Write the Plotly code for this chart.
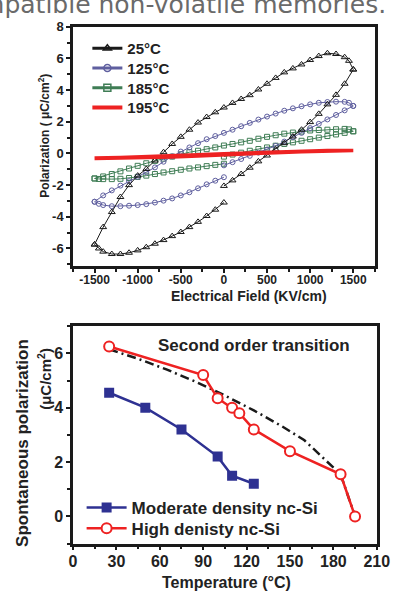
import plotly.graph_objects as go

W, H = 407, 592
FONT = "Liberation Sans, Arial, sans-serif"
TXT = "#222222"

# ---------------- top panel: P-E hysteresis loops ----------------
E_RISE = [0, 100, 200, 300, 400, 500, 600, 700, 800, 900, 1000, 1100, 1200, 1300, 1400, 1500]
E_FALL = [1500, 1450, 1400, 1300, 1200, 1100, 1000, 900, 800, 700, 600, 500, 400, 300, 200, 100, 0,
          -100, -200, -300, -400, -500, -600, -700, -800, -900, -1000, -1100, -1200, -1300, -1400, -1500]
E_RET = [-1500, -1450, -1400, -1300, -1200, -1100, -1000, -900, -800, -700, -600, -500, -400, -300, -200, -100, 0]

P25_RISE = [-2.05, -1.7, -1.3, -0.9, -0.5, -0.13, 0.25, 0.65, 1.07, 1.5, 1.98, 2.5, 3.1, 3.7, 4.4, 5.3]
P25_FALL = [5.3, 5.85, 6.08, 6.28, 6.33, 6.15, 5.9, 5.62, 5.37, 5.12, 4.77, 4.4, 4.04, 3.68, 3.44, 3.19, 2.9,
            2.6, 2.3, 1.95, 1.5, 1.05, 0.6, 0.08, -0.45, -0.98, -1.4, -2.0, -2.75, -3.7, -4.65, -5.75]
P25_RET = [-5.75, -6.0, -6.2, -6.35, -6.35, -6.27, -6.12, -5.92, -5.7, -5.47, -5.22, -4.96, -4.65, -4.32,
           -3.95, -3.55, -3.1]

P125_RISE = [-0.75, -0.55, -0.35, -0.15, 0.05, 0.25, 0.48, 0.75, 1.03, 1.3, 1.6, 1.87, 2.15, 2.43, 2.72, 3.0]
P125_FALL = [3.0, 3.2, 3.26, 3.27, 3.25, 3.2, 3.1, 2.98, 2.85, 2.7, 2.52, 2.33, 2.14, 1.93, 1.72, 1.5, 1.3,
             1.1, 0.9, 0.65, 0.38, 0.12, -0.18, -0.52, -0.88, -1.18, -1.47, -1.75, -2.03, -2.33, -2.65, -3.05]
P125_RET = [-3.05, -3.18, -3.26, -3.33, -3.33, -3.3, -3.26, -3.2, -3.1, -2.98, -2.84, -2.65, -2.45, -2.2,
            -1.95, -1.72, -1.5]

P185_RISE = [-0.2, -0.07, 0.05, 0.17, 0.28, 0.38, 0.49, 0.6, 0.7, 0.8, 0.9, 1.0, 1.1, 1.2, 1.3, 1.4]
P185_FALL = [1.4, 1.52, 1.55, 1.53, 1.5, 1.48, 1.45, 1.38, 1.32, 1.25, 1.15, 1.05, 0.93, 0.8, 0.7, 0.6, 0.5,
             0.38, 0.27, 0.17, 0.08, -0.05, -0.2, -0.33, -0.47, -0.62, -0.78, -0.95, -1.13, -1.3, -1.45, -1.58]
P185_RET = [-1.58, -1.61, -1.62, -1.62, -1.6, -1.55, -1.48, -1.4, -1.3, -1.2, -1.12, -1.03, -0.95, -0.88,
            -0.8, -0.72, -0.65]

E195 = [-1500, -1200, -900, -600, -300, 0, 300, 600, 900, 1200, 1500,
        1200, 900, 600, 300, 0, -300, -600, -900, -1200, -1500]
P195 = [-0.32, -0.3, -0.27, -0.22, -0.16, -0.08, -0.02, 0.05, 0.1, 0.15, 0.18,
        0.19, 0.15, 0.1, 0.05, -0.02, -0.08, -0.15, -0.2, -0.25, -0.28]

LOOP_NAMES = ["25°C", "125°C", "185°C", "195°C"]
E_TICKS = [-1500, -1000, -500, 0, 500, 1000, 1500]
E_TICKTEXT = ["-1500", "-1000", "-500", "0", "500", "1000", "1500"]
P_TICKS = [-6, -4, -2, 0, 2, 4, 6, 8]
P_TICKTEXT = ["-6", "-4", "-2", "0", "2", "4", "6", "8"]

# ---------------- bottom panel: spontaneous polarization vs T ----------------
T_MOD = [25, 50, 75, 100, 110, 125]
P_MOD = [4.55, 4.0, 3.2, 2.2, 1.5, 1.2]
T_HIGH = [25, 90, 100, 110, 115, 125, 150, 185, 195]
P_HIGH = [6.25, 5.2, 4.35, 4.0, 3.8, 3.2, 2.4, 1.55, 0.0]
T_FIT = [25, 45, 65, 85, 105, 125, 145, 160, 175, 185, 195]
P_FIT = [6.15, 5.8, 5.4, 4.95, 4.45, 3.9, 3.3, 2.8, 2.05, 1.55, 0.0]
T_TICKS = [0, 30, 60, 90, 120, 150, 180, 210]
PS_TICKS = [0, 2, 4, 6]

BLACK = "#1a1a1a"
PURPLE = "#5f5f9f"
GREEN = "#3f7d55"
RED = "#ee2222"
BLUE = "#2e3192"


def fx(px):
    return px / W


def fy(py):
    return 1 - py / H


fig = go.Figure()

loop_styles = [
    (P25_RISE + P25_FALL + P25_RET, BLACK, "triangle-up-open", 6),
    (P125_RISE + P125_FALL + P125_RET, PURPLE, "circle-open", 5),
    (P185_RISE + P185_FALL + P185_RET, GREEN, "square-open", 5),
]
E_LOOP = E_RISE + E_FALL + E_RET
for P, col, sym, sz in reversed(loop_styles):
    fig.add_trace(go.Scatter(
        x=E_LOOP, y=P, mode="lines+markers", xaxis="x", yaxis="y",
        line=dict(color=col, width=1),
        marker=dict(symbol=sym, size=sz, color=col, line=dict(color=col, width=1)),
        showlegend=False, hoverinfo="skip"))

fig.add_trace(go.Scatter(
    x=E195, y=P195, mode="lines", xaxis="x", yaxis="y",
    line=dict(color=RED, width=3.5), showlegend=False, hoverinfo="skip"))

# legend entries for the loops (one legend box per row)
leg_syms = [("triangle-up-open", BLACK, "lines+markers"), ("circle-open", PURPLE, "lines+markers"),
            ("square-open", GREEN, "lines+markers"), ("circle", RED, "lines")]
for i, (name, (sym, col, mode)) in enumerate(zip(LOOP_NAMES, leg_syms)):
    fig.add_trace(go.Scatter(
        x=[None], y=[None], mode=mode, name=name, xaxis="x", yaxis="y",
        line=dict(color=col, width=3 if mode == "lines+markers" else 4),
        marker=dict(symbol=sym, size=7, color=col, line=dict(color=col, width=1.5)),
        legend="legend" if i == 0 else f"legend{i + 1}"))

# bottom panel
fig.add_trace(go.Scatter(
    x=T_FIT, y=P_FIT, mode="lines", xaxis="x2", yaxis="y2",
    line=dict(color=BLACK, width=2.5, dash="9px,4px,2px,4px"),
    showlegend=False, hoverinfo="skip"))
fig.add_trace(go.Scatter(
    x=T_MOD, y=P_MOD, mode="lines+markers", xaxis="x2", yaxis="y2",
    name="Moderate density nc-Si",
    line=dict(color=BLUE, width=2.5),
    marker=dict(symbol="square", size=10, color=BLUE, line=dict(width=0)),
    legend="legend5"))
fig.add_trace(go.Scatter(
    x=T_HIGH, y=P_HIGH, mode="lines+markers", xaxis="x2", yaxis="y2",
    name="High denisty nc-Si",
    line=dict(color=RED, width=2.5),
    marker=dict(symbol="circle", size=10, color="white", line=dict(color=RED, width=2)),
    legend="legend6"))


def leg(xp, yp, size, iw):
    return dict(x=fx(xp), y=fy(yp), xanchor="left", yanchor="middle",
                bgcolor="rgba(0,0,0,0)", borderwidth=0, itemwidth=iw,
                font=dict(family=FONT, size=size, color=TXT, weight="bold"),
                tracegroupgap=0)


ax_common = dict(showline=True, linewidth=2.5, linecolor=BLACK, mirror=True,
                 ticks="outside", tickwidth=2, tickcolor=BLACK,
                 showgrid=False, zeroline=False)

fig.update_layout(
    width=W, height=H, margin=dict(l=0, r=0, t=0, b=0),
    paper_bgcolor="white", plot_bgcolor="white",
    xaxis=dict(domain=[fx(72), fx(387)], range=[-1750, 1750], anchor="y",
               tickmode="array", tickvals=E_TICKS, ticktext=E_TICKTEXT, ticklen=4,
               ticklabelstandoff=-3,
               minor=dict(tickmode="linear", tick0=0, dtick=250, ticks="outside", ticklen=3,
                          tickwidth=1.5, tickcolor=BLACK),
               tickfont=dict(family=FONT, size=12, color=TXT, weight="bold"), **ax_common),
    yaxis=dict(domain=[fy(262), fy(20)], range=[-7.1, 8], anchor="x",
               tickmode="array", tickvals=P_TICKS, ticktext=P_TICKTEXT, ticklen=4,
               minor=dict(tickmode="linear", tick0=0, dtick=1, ticks="outside", ticklen=3,
                          tickwidth=1.5, tickcolor=BLACK),
               tickfont=dict(family=FONT, size=13, color=TXT, weight="bold"), **ax_common),
    xaxis2=dict(domain=[fx(72), fx(389)], range=[0, 210], anchor="y2",
                tickmode="array", tickvals=T_TICKS, ticklen=4,
                ticklabelstandoff=-3,
                minor=dict(tickmode="linear", tick0=0, dtick=15, ticks="outside", ticklen=3,
                           tickwidth=1.5, tickcolor=BLACK),
                tickfont=dict(family=FONT, size=16, color=TXT, weight="bold"), **ax_common),
    yaxis2=dict(domain=[fy(543), fy(323)], range=[-1, 7], anchor="x2",
                tickmode="array", tickvals=PS_TICKS, ticklen=4,
                minor=dict(tickmode="linear", tick0=0, dtick=1, ticks="outside", ticklen=3,
                           tickwidth=1.5, tickcolor=BLACK),
                tickfont=dict(family=FONT, size=16, color=TXT, weight="bold"), **ax_common),
    legend=leg(87, 42, 15, 30),
    legend2=leg(87, 62, 15, 30),
    legend3=leg(87, 82, 15, 30),
    legend4=leg(87, 102, 15, 30),
    legend5=leg(81, 507, 17, 40),
    legend6=leg(81, 528, 17, 40),
    annotations=[
        dict(text="compatible non-volatile memories.", xref="paper", yref="paper",
             x=fx(401), y=fy(14), xanchor="right", yanchor="bottom", showarrow=False,
             font=dict(family="DejaVu Sans", size=25, color="#6a6a6a")),
        dict(text="Polarization ( μC/cm<sup>2</sup>)", xref="paper", yref="paper",
             x=fx(42), y=fy(130), xanchor="center", yanchor="middle", textangle=-90,
             showarrow=False, font=dict(family=FONT, size=12, color=TXT, weight="bold")),
        dict(text="Electrical Field (KV/cm)", xref="paper", yref="paper",
             x=fx(256), y=fy(292), xanchor="center", yanchor="middle", showarrow=False,
             font=dict(family=FONT, size=14, color=TXT, weight="bold")),
        dict(text="Spontaneous polarization", xref="paper", yref="paper",
             x=fx(20), y=fy(441), xanchor="center", yanchor="middle", textangle=-90,
             showarrow=False, font=dict(family=FONT, size=17, color=TXT, weight="bold")),
        dict(text="(μC/cm<sup>2</sup>)", xref="paper", yref="paper",
             x=fx(42), y=fy(376), xanchor="center", yanchor="middle", textangle=-90,
             showarrow=False, font=dict(family=FONT, size=15, color=TXT, weight="bold")),
        dict(text="Temperature (°C)", xref="paper", yref="paper",
             x=fx(232), y=fy(582), xanchor="center", yanchor="middle", showarrow=False,
             font=dict(family=FONT, size=16, color=TXT, weight="bold")),
        dict(text="Second order transition", xref="paper", yref="paper",
             x=fx(261), y=fy(343), xanchor="center", yanchor="middle", showarrow=False,
             font=dict(family=FONT, size=17, color=TXT, weight="bold")),
    ],
)

fig.write_html("out.html")
